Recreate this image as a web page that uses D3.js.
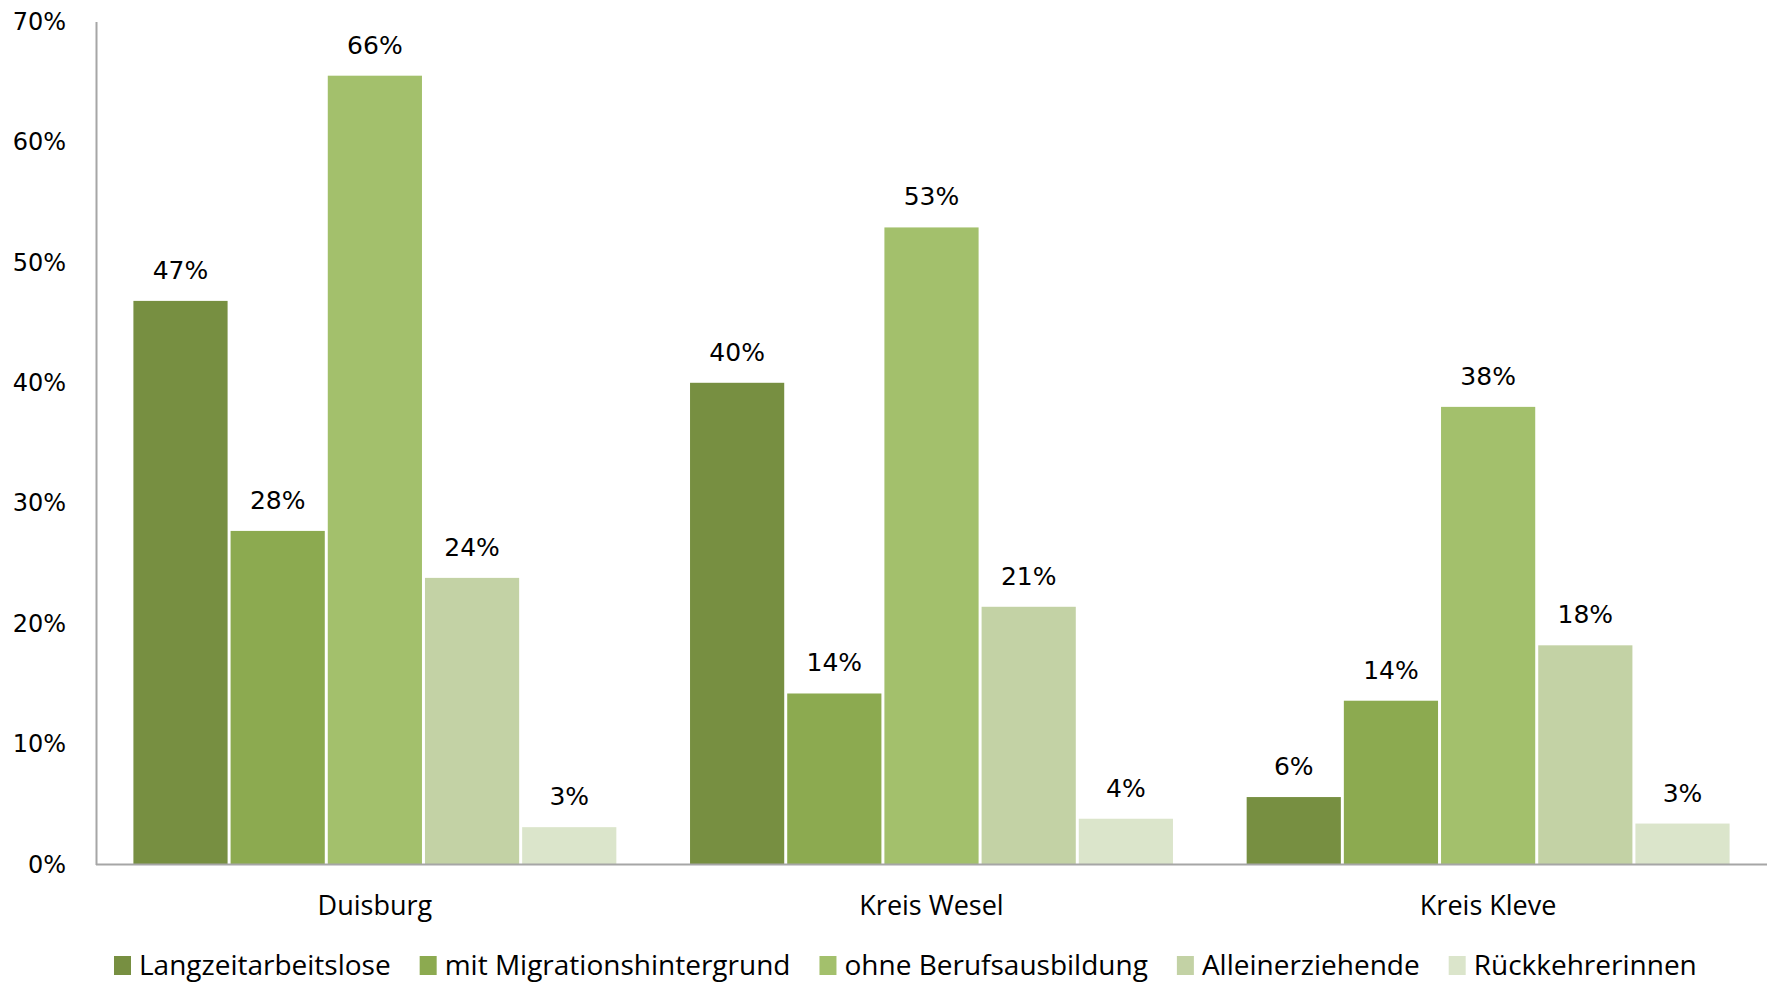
<!DOCTYPE html>
<html>
<head>
<meta charset="utf-8">
<script src="https://cdn.jsdelivr.net/npm/d3@7"></script>
<style>
  html, body { margin: 0; padding: 0; background: #fff; }
  svg { display: block; }
</style>
</head>
<body>
<svg id="chart" width="1772" height="983"></svg>
<script>
// Regions shown on the x axis
const regions = ["Duisburg", "Kreis Wesel", "Kreis Kleve"];

// Groups of people (one bar per group within each region)
const groups = [
  "Langzeitarbeitslose",
  "mit Migrationshintergrund",
  "ohne Berufsausbildung",
  "Alleinerziehende",
  "Rückkehrerinnen"
];

// Shares per group, one array per region, in the order of `groups`
const duisburg   = [0.468, 0.277, 0.655, 0.238, 0.031];
const kreisWesel = [0.400, 0.142, 0.529, 0.214, 0.038];
const kreisKleve = [0.056, 0.136, 0.380, 0.182, 0.034];

// Y-axis ticks
const yTicks = [0, 0.1, 0.2, 0.3, 0.4, 0.5, 0.6, 0.7];

const colors = ["#778f41", "#8caa50", "#a3c06c", "#c3d2a5", "#dbe5cb"];

const seriesByRegion = [duisburg, kreisWesel, kreisKleve];

const svg = d3.select("#chart");
const margin = { left: 96, right: 5, top: 21.5, bottom: 118.5 };
const W = 1772, H = 983;
const plotBottom = H - margin.bottom;

const x0 = d3.scaleBand()
  .domain(regions)
  .range([margin.left, W - margin.right])
  .paddingInner(0.127)
  .paddingOuter(0.0645);

const x1 = d3.scaleBand()
  .domain(groups)
  .range([0, x0.bandwidth()])
  .padding(0);

const y = d3.scaleLinear()
  .domain([0, 0.7])
  .range([plotBottom, margin.top]);

const pct = d3.format(".0%");

// Bars
const regionG = svg.append("g")
  .selectAll("g")
  .data(regions.map((r, i) => ({ region: r, values: seriesByRegion[i] })))
  .join("g")
  .attr("transform", d => `translate(${x0(d.region)},0)`);

regionG.selectAll("rect")
  .data(d => d.values.map((v, j) => ({ group: groups[j], value: v, idx: j })))
  .join("rect")
  .attr("x", d => x1(d.group) + 1.5)
  .attr("width", x1.bandwidth() - 3)
  .attr("y", d => y(d.value))
  .attr("height", d => plotBottom - y(d.value))
  .attr("fill", d => colors[d.idx]);

// Value labels
regionG.selectAll("text")
  .data(d => d.values.map((v, j) => ({ group: groups[j], value: v })))
  .join("text")
  .attr("x", d => x1(d.group) + x1.bandwidth() / 2)
  .attr("y", d => y(d.value) - 22)
  .attr("text-anchor", "middle")
  .attr("font-family", "DejaVu Sans")
  .attr("font-size", 25)
  .attr("fill", "#000")
  .text(d => pct(d.value));

// Y axis
const yAxis = svg.append("g")
  .attr("transform", `translate(${margin.left},0)`)
  .call(d3.axisLeft(y).tickValues(yTicks).tickFormat(d3.format(".0%")).tickSize(0).tickPadding(30));
yAxis.select(".domain").attr("stroke", "#a6a6a6").attr("stroke-width", 2);
yAxis.selectAll("text")
  .attr("font-family", "DejaVu Sans")
  .attr("font-size", 24)
  .attr("fill", "#000");

// X axis
const xAxis = svg.append("g")
  .attr("transform", `translate(0,${plotBottom})`)
  .call(d3.axisBottom(x0).tickSize(0).tickPadding(31).tickSizeOuter(0));
xAxis.select(".domain").attr("stroke", "#a6a6a6").attr("stroke-width", 2)
  .attr("d", `M${margin.left},0H${W - margin.right}`);
xAxis.selectAll("text")
  .attr("font-family", "Open Sans")
  .attr("font-size", 27)
  .attr("fill", "#000");

// Legend
const legend = svg.append("g").attr("transform", "translate(114,0)");
let cursor = 0;
groups.forEach((g, i) => {
  const item = legend.append("g").attr("transform", `translate(${cursor},0)`);
  item.append("rect")
    .attr("x", 0).attr("y", 956)
    .attr("width", 17).attr("height", 19)
    .attr("fill", colors[i]);
  const t = item.append("text")
    .attr("x", 25).attr("y", 975)
    .attr("font-family", "Open Sans")
    .attr("font-size", 28)
    .attr("fill", "#000")
    .text(g);
  const w = t.node().getComputedTextLength();
  cursor += 25 + w + 29;
});
</script>
</body>
</html>
